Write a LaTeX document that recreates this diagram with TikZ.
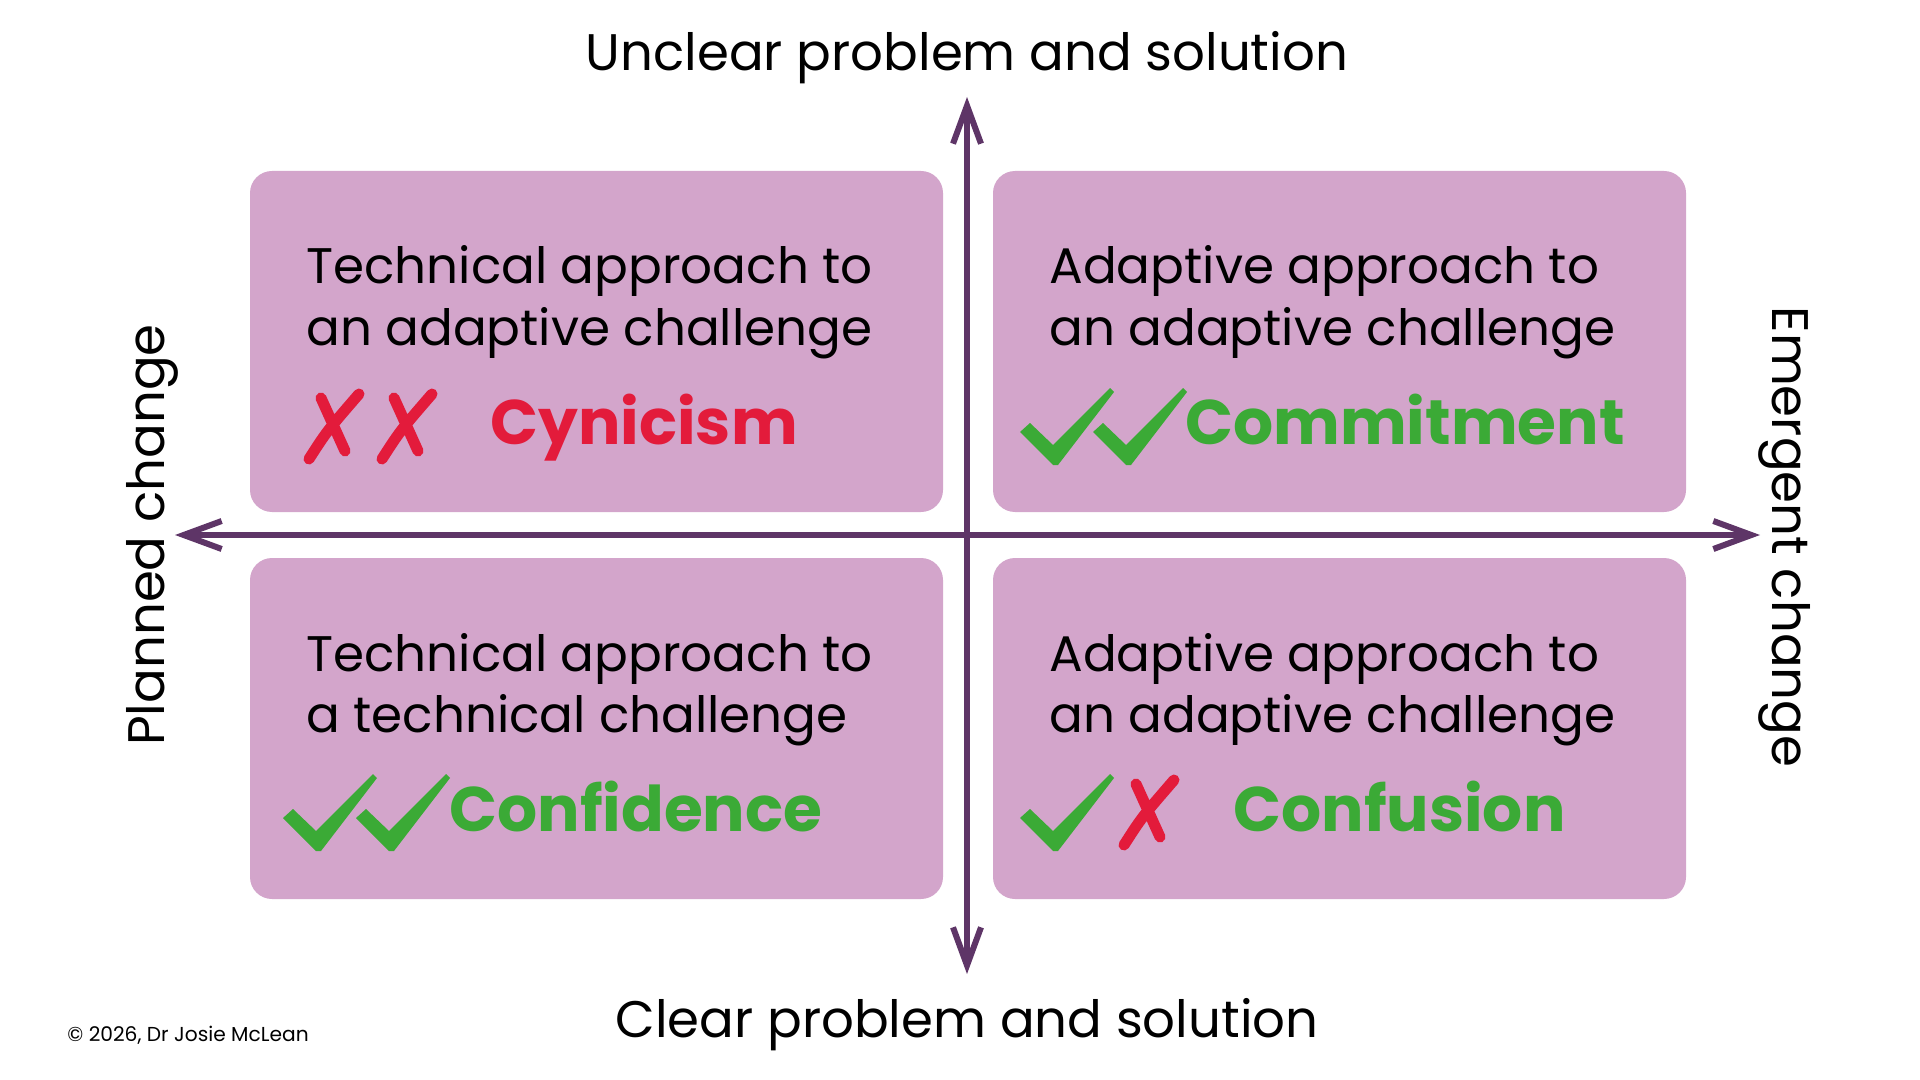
\documentclass[tikz,border=0pt]{standalone}
\usepackage{fontspec}
\setmainfont{Poppins}
\usetikzlibrary{arrows.meta}

\definecolor{axisplum}{HTML}{5E3567}
\definecolor{boxmauve}{HTML}{D3A5CB}
\definecolor{badred}{HTML}{E31B3B}
\definecolor{goodgreen}{HTML}{3BAA36}

\tikzset{
  quad/.style={fill=boxmauve, rounded corners=11pt, minimum width=346.5pt, minimum height=170.5pt, inner sep=0pt},
  axisarrow/.style={draw=axisplum, line width=3pt,
    {Straight Barb[length=19pt,width=14pt]}-{Straight Barb[length=19pt,width=14pt]}},
  boxtext/.style={anchor=base west, inner sep=0pt, font=\fontsize{25}{30}\selectfont},
  axislabel/.style={anchor=base, inner sep=0pt, font=\fontsize{25.7}{31}\selectfont},
  verdict/.style={anchor=base west, inner sep=0pt, font=\fontsize{31.5}{38}\selectfont\bfseries},
}

% green tick, origin at its bottom point
\newcommand\checkmk[1]{\fill[goodgreen, shift={(#1)}] (0,2) -- (-33,-31) -- (-23,-40) -- (0,-18) -- (57,-75) -- (61,-71) -- (5,2) -- cycle;}
% red brush cross, origin at bottom of the long stroke
\newcommand\crossmk[1]{\draw[badred, line width=5.5pt, line cap=round, shift={(#1)}] (0,0) .. controls (18,-28) .. (50,-65) (12,-61) -- (36,-8);}

\begin{document}
\begin{tikzpicture}[x=0.5pt, y=-0.5pt]
  \useasboundingbox (0,0) rectangle (1920,1080);

  % the four quadrants
  \node[quad] (tl) at (596.5,341.5) {};
  \node[quad] (tr) at (1339.5,341.5) {};
  \node[quad] (bl) at (596.5,728.5) {};
  \node[quad] (br) at (1339.5,728.5) {};

  % axes
  \coordinate (top) at (967,97);
  \coordinate (bottom) at (967,974);
  \coordinate (left) at (175,535);
  \coordinate (right) at (1760,535);
  \draw[axisarrow] (left) -- (right);
  \draw[axisarrow] (bottom) -- (top);

  \node[axislabel] (unclear) at (967,71) {Unclear problem and solution};
  \node[axislabel] (clear) at (967,1037) {Clear problem and solution};
  \node[axislabel, rotate=90] (planned) at (164.5,535) {Planned change};
  \node[axislabel, rotate=-90] (emergent) at (1772,537) {Emergent change};

  % top left
  \node[boxtext] (tl1) at (306,284) {Technical approach to};
  \node[boxtext] (tl2) at (306,345) {an adaptive challenge};
  \crossmk{309,459}
  \crossmk{382,459}
  \node[verdict, text=badred] (cynicism) at (490,444) {Cynicism};

  % top right
  \node[boxtext] (tr1) at (1049,284) {Adaptive approach to};
  \node[boxtext] (tr2) at (1049,345) {an adaptive challenge};
  \checkmk{1053,463}
  \checkmk{1126,463}
  \node[verdict, text=goodgreen] (commitment) at (1185,444) {Commitment};

  % bottom left
  \node[boxtext] (bl1) at (306,671) {Technical approach to};
  \node[boxtext] (bl2) at (306,732) {a technical challenge};
  \checkmk{316,849}
  \checkmk{389,849}
  \node[verdict, text=goodgreen] (confidence) at (449,831) {Confidence};

  % bottom right
  \node[boxtext] (br1) at (1049,671) {Adaptive approach to};
  \node[boxtext] (br2) at (1049,732) {an adaptive challenge};
  \checkmk{1053,849}
  \crossmk{1124,845}
  \node[verdict, text=goodgreen] (confusion) at (1233,831) {Confusion};

  \node[anchor=base west, inner sep=0pt, font=\fontsize{10.1}{12}\selectfont] (copy) at (67,1041) {© 2026, Dr Josie McLean};
\end{tikzpicture}
\end{document}
